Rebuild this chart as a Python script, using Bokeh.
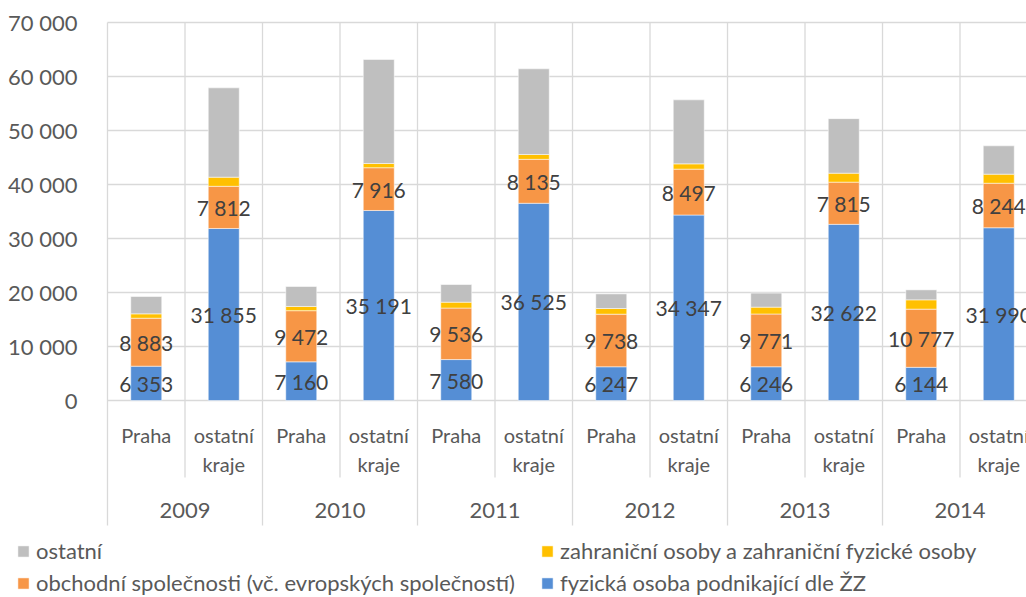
from bokeh.plotting import figure
from bokeh.models import ColumnDataSource, FixedTicker, Legend, LegendItem
from bokeh.core.properties import value
from bokeh.embed import file_html
from bokeh.resources import INLINE

# ---- data ----
years = ["2009", "2010", "2011", "2012", "2013", "2014"]
regions = ["Praha", "ostatní\nkraje"]
fyzicka = [6353, 31855, 7160, 35191, 7580, 36525, 6247, 34347, 6246, 32622, 6144, 31990]
obchodni = [8883, 7812, 9472, 7916, 9536, 8135, 9738, 8497, 9771, 7815, 10777, 8244]
zahranicni = [810, 1690, 780, 780, 1090, 900, 1050, 980, 1270, 1660, 1720, 1680]
ostatni = [3210, 16540, 3700, 19260, 3270, 15860, 2710, 11850, 2600, 10100, 1850, 5250]
y_ticks = [0, 10000, 20000, 30000, 40000, 50000, 60000, 70000]
y_tick_labels = ["0", "10 000", "20 000", "30 000", "40 000", "50 000", "60 000", "70 000"]
series_names = ["fyzická osoba podnikající dle ŽZ",
                "obchodní společnosti (vč. evropských společností)",
                "zahraniční osoby a zahraniční fyzické osoby",
                "ostatní"]
colors = ["#558ED5", "#F79646", "#FFC000", "#BFBFBF"]

FONT = "Lato"
n = len(years) * len(regions)
xs = [i + 0.5 for i in range(n)]

src = ColumnDataSource(dict(x=xs, fyz=fyzicka, obch=obchodni, zahr=zahranicni, ost=ostatni))

# frame covers the whole page; the y axis is pinned at the first category boundary
p = figure(width=1026, height=597, x_range=(-1.38065, 11.858), y_range=(-36481, 74074),
           output_backend="svg", toolbar_location=None,
           min_border_left=0, min_border_top=0, min_border_bottom=0, min_border_right=0)
p.outline_line_color = None
p.background_fill_color = "white"
p.border_fill_color = "white"

# horizontal gridlines (only across the plot area)
p.segment(x0=[0] * len(y_ticks), x1=[n] * len(y_ticks), y0=y_ticks, y1=y_ticks,
          line_color="#D9D9D9", line_width=1.3)

# vertical separators (category boundaries) continuing into the label area
y_inner_end = -14259
y_group_end = -23148
bx = list(range(n))
by1 = [y_group_end if i % 2 == 0 else y_inner_end for i in range(n)]
p.segment(x0=bx, x1=bx, y0=[max(y_ticks)] * n, y1=by1, line_color="#D9D9D9", line_width=1.3)

rends = p.vbar_stack(["fyz", "obch", "zahr", "ost"], x="x", width=0.4, source=src,
                     color=colors, line_color="white", line_alpha=0.5, line_width=1)

# axes
p.xaxis.visible = False
p.xgrid.visible = False
p.ygrid.visible = False
p.yaxis.fixed_location = 0
p.yaxis.ticker = FixedTicker(ticks=y_ticks)
p.yaxis.major_label_overrides = {t: l for t, l in zip(y_ticks, y_tick_labels)}
p.yaxis.axis_line_color = None
p.yaxis.major_tick_line_color = None
p.yaxis.minor_tick_line_color = None
p.yaxis.major_label_standoff = 24
p.yaxis.major_label_text_font = FONT
p.yaxis.major_label_text_font_size = "22px"
p.yaxis.major_label_text_color = "#595959"

# data labels (blue and orange segments)
fmt = lambda v: f"{v:,}".replace(",", " ")
lab_src = ColumnDataSource(dict(
    x=xs + xs,
    y=[v / 2 for v in fyzicka] + [f + o / 2 for f, o in zip(fyzicka, obchodni)],
    t=[fmt(v) for v in fyzicka] + [fmt(v) for v in obchodni]))
p.text(x="x", y="y", text="t", source=lab_src, text_align="center", text_baseline="middle",
       text_font=value(FONT), text_font_size="21px", text_color="#404040")

# category labels (two lines)
cat_labels = regions * len(years)
line1 = [c.split("\n")[0] for c in cat_labels]
line2 = [c.split("\n")[1] if "\n" in c else "" for c in cat_labels]
p.text(x=xs, y=[-6296] * n, text=line1, text_align="center", text_baseline="middle",
       text_font=value(FONT), text_font_size="20px", text_color="#595959")
p.text(x=xs, y=[-11667] * n, text=line2, text_align="center", text_baseline="middle",
       text_font=value(FONT), text_font_size="20px", text_color="#595959")
gx = [2 * i + 1 for i in range(len(years))]
p.text(x=gx, y=[-20370] * len(years), text=years, text_align="center", text_baseline="middle",
       text_font=value(FONT), text_font_size="22px", text_color="#595959")

# legend
by_name = dict(zip(series_names, rends))
order = ["ostatní", "zahraniční osoby a zahraniční fyzické osoby",
         "obchodní společnosti (vč. evropských společností)", "fyzická osoba podnikající dle ŽZ"]
legend = Legend(items=[LegendItem(label=nm, renderers=[by_name[nm]]) for nm in order],
                location=(16, 1), orientation="horizontal", ncols=2,
                glyph_width=14, glyph_height=14, label_standoff=6, spacing=5, label_width=499,
                padding=0, margin=0, border_line_color=None, background_fill_alpha=0,
                label_text_font=FONT, label_text_font_size="22px", label_text_color="#595959")
p.add_layout(legend)

open("out.html", "w").write(file_html(p, INLINE))
